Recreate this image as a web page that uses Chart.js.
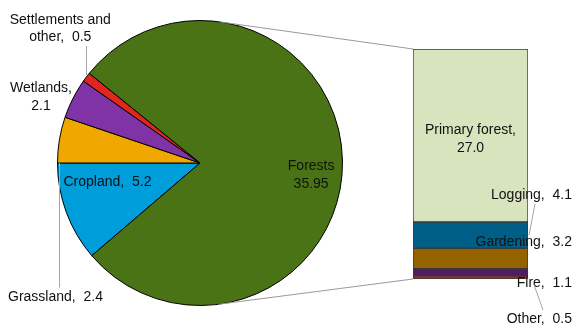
<!doctype html>
<html>

<head>
    <title>Land use - pie of bar</title>
    <script src="https://cdn.jsdelivr.net/npm/chart.js"></script>
</head>

<body style="margin:0; background:#fff;">
    <div style="position:relative; width:577px; height:326px;">
        <canvas id="pie" width="577" height="326" style="position:absolute; left:0; top:0;"></canvas>
        <canvas id="bar" width="577" height="326" style="position:absolute; left:0; top:0;"></canvas>
    </div>

    <script>
        // pie: land use (ordered clockwise starting from Cropland)
        var pieNames = ['Cropland', 'Grassland', 'Wetlands', 'Settlements and other', 'Forests'];
        var pieValues = [5.2, 2.4, 2.1, 0.5, 35.95];
        var pieColors = ['#009ddb', '#f0a800', '#7f33a6', '#e0261d', '#4a7315'];

        // bar: breakdown of forests (top to bottom)
        var barNames = ['Primary forest', 'Logging', 'Gardening', 'Fire', 'Other'];
        var barValues = [27.0, 4.1, 3.2, 1.1, 0.5];
        var barColors = ['#d7e4bd', '#005f86', '#946300', '#4e1d63', '#9b2d1f'];

        var FONT = '14px "Liberation Sans", Arial, sans-serif';
        var TEXT = '#111';
        var LEADER = '#a6a6a6';

        function fmt(v) {
            return Number.isInteger(Math.round(v * 100) / 10) ? v.toFixed(1) : String(v);
        }

        function drawLines(ctx, lines, x, y, align) {
            ctx.textAlign = align;
            ctx.textBaseline = 'middle';
            lines.forEach((l, i) => ctx.fillText(l, x, y + i * 17.5));
        }

        var pieTotal = pieValues.reduce((a, b) => a + b, 0);
        var barTotal = barValues.reduce((a, b) => a + b, 0);

        var pieLabels = {
            id: 'pieLabels',
            afterDraw(chart) {
                var ctx = chart.ctx;
                var arcs = chart.getDatasetMeta(0).data;
                var cx = arcs[0].x, cy = arcs[0].y, r = arcs[0].outerRadius;
                ctx.save();
                ctx.font = FONT;
                ctx.fillStyle = TEXT;
                ctx.strokeStyle = LEADER;
                ctx.lineWidth = 1;

                function outer(i) {
                    var a = (arcs[i].startAngle + arcs[i].endAngle) / 2;
                    return { x: cx + r * Math.cos(a), y: cy + r * Math.sin(a) };
                }

                // Forests, inside
                var f = outer(4);
                drawLines(ctx, [pieNames[4], fmt(pieValues[4])], cx + (f.x - cx) * 0.78, cy + (f.y - cy) * 0.78 + 5, 'center');

                // Cropland, inside
                drawLines(ctx, [pieNames[0] + ',  ' + fmt(pieValues[0])], cx - r + 6, cy + 19, 'left');

                // Grassland, leader down
                var g = outer(1);
                ctx.beginPath();
                ctx.moveTo(Math.round(g.x) + 0.5, cy);
                ctx.lineTo(Math.round(g.x) + 0.5, cy + r - 18);
                ctx.stroke();
                drawLines(ctx, [pieNames[1] + ',  ' + fmt(pieValues[1])], 8, cy + r - 8, 'left');

                // Wetlands
                var w = outer(2);
                drawLines(ctx, [pieNames[2] + ',', fmt(pieValues[2])], w.x - 32, w.y - 10, 'center');

                // Settlements and other, leader up
                var s = outer(3);
                ctx.beginPath();
                ctx.moveTo(Math.round(s.x) + 0.5, s.y - 2);
                ctx.lineTo(Math.round(s.x) + 0.5, s.y - 31);
                ctx.stroke();
                drawLines(ctx, ['Settlements and', 'other,  ' + fmt(pieValues[3])], s.x - 26, s.y - 57, 'center');
                ctx.restore();
            }
        };

        var pieChart = new Chart(document.getElementById('pie').getContext('2d'), {
            type: 'pie',
            data: {
                labels: pieNames,
                datasets: [{
                    data: pieValues,
                    backgroundColor: pieColors,
                    borderColor: '#000',
                    borderWidth: 1
                }]
            },
            options: {
                responsive: false,
                animation: false,
                rotation: 270 - 360 * pieValues[0] / pieTotal,
                layout: { padding: { left: 57, right: 234, top: 20, bottom: 20 } },
                plugins: { legend: { display: false }, tooltip: { enabled: false } }
            },
            plugins: [pieLabels]
        });

        var barLabels = {
            id: 'barLabels',
            afterDraw(chart) {
                var ctx = chart.ctx;
                var area = chart.chartArea;
                var ys = chart.scales.y;
                var arc = pieChart.getDatasetMeta(0).data[0];
                var cx = arc.x, cy = arc.y, r = arc.outerRadius;
                ctx.save();

                // connector lines, tangent to the pie
                ctx.strokeStyle = '#9a9a9a';
                ctx.lineWidth = 1;
                [[area.top, -1], [area.bottom, 1]].forEach(([py, sgn]) => {
                    var px = area.left;
                    var d = Math.hypot(px - cx, py - cy);
                    var phi = Math.atan2(py - cy, px - cx);
                    var t = phi + sgn * Math.acos(r / d);
                    ctx.beginPath();
                    ctx.moveTo(cx + r * Math.cos(t), cy + r * Math.sin(t));
                    ctx.lineTo(px, py);
                    ctx.stroke();
                });

                ctx.font = FONT;
                ctx.fillStyle = TEXT;
                var right = chart.width - 5;

                // segment boundaries (top to bottom)
                var top = barTotal, seg = [];
                barValues.forEach(v => { seg.push([ys.getPixelForValue(top), ys.getPixelForValue(top - v)]); top -= v; });
                var mid = area.left + (area.right - area.left) / 2;

                drawLines(ctx, [barNames[0] + ',', fmt(barValues[0])], mid, (seg[0][0] + seg[0][1]) / 2 - 5, 'center');

                ctx.strokeStyle = LEADER;
                // Logging
                drawLines(ctx, [barNames[1] + ',  ' + fmt(barValues[1])], right, seg[1][0] - 27, 'right');
                ctx.beginPath();
                ctx.moveTo(area.right + 7, seg[1][0] - 18);
                ctx.lineTo(area.right + 1, (seg[1][0] + seg[1][1]) / 2);
                ctx.stroke();
                // Gardening
                drawLines(ctx, [barNames[2] + ',  ' + fmt(barValues[2])], right, seg[1][1] - 6, 'right');
                // Fire
                drawLines(ctx, [barNames[3] + ',  ' + fmt(barValues[3])], right, seg[3][1] + 7, 'right');
                // Other
                ctx.beginPath();
                ctx.moveTo(area.right + 5, seg[4][1] + 3);
                ctx.lineTo(area.right + 15, seg[4][1] + 31);
                ctx.stroke();
                drawLines(ctx, [barNames[4] + ',  ' + fmt(barValues[4])], right, seg[4][1] + 40, 'right');
                ctx.restore();
            }
        };

        new Chart(document.getElementById('bar').getContext('2d'), {
            type: 'bar',
            data: {
                labels: [''],
                datasets: barNames.map((n, i) => ({
                    label: n,
                    data: [barValues[i]],
                    backgroundColor: barColors[i],
                    borderColor: '#3a3a3a',
                    borderWidth: 1,
                    borderSkipped: false,
                    barPercentage: 1,
                    categoryPercentage: 1
                })).reverse()
            },
            options: {
                responsive: false,
                animation: false,
                layout: { padding: { left: 413, right: 49, top: 49, bottom: 47 } },
                scales: {
                    x: { stacked: true, display: false },
                    y: { stacked: true, display: false, min: 0, max: barTotal }
                },
                plugins: { legend: { display: false }, tooltip: { enabled: false } }
            },
            plugins: [barLabels]
        });
    </script>
</body>

</html>
